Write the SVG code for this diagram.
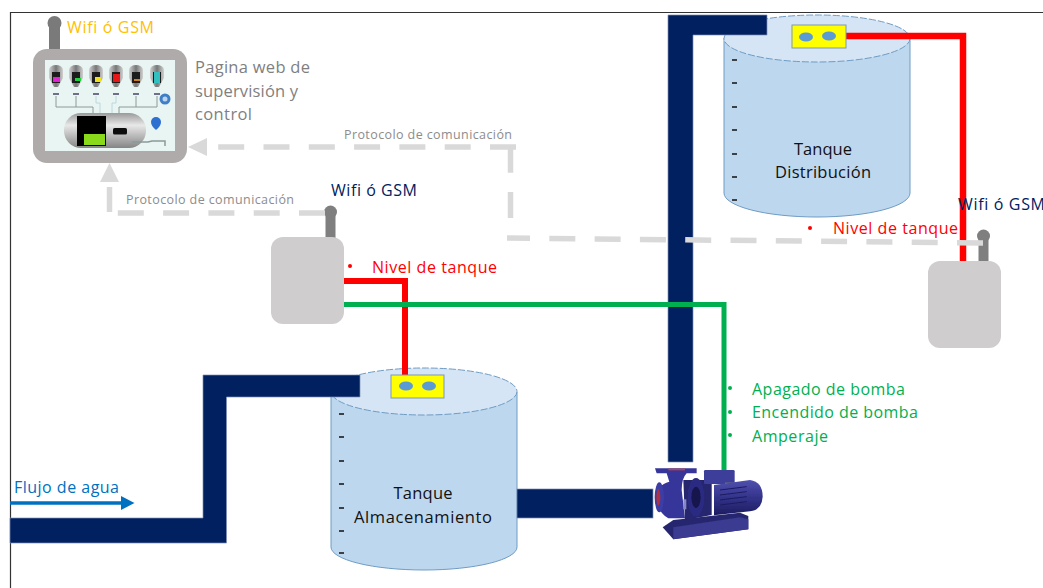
<svg xmlns="http://www.w3.org/2000/svg" width="1043" height="588" viewBox="0 0 1043 588">
<style>
text{font-family:"Open Sans","Liberation Sans",sans-serif;font-variant-ligatures:none}
.pipe{fill:#002060;stroke:#7f8fb5;stroke-width:.7}
.body{fill:#bdd7ee;stroke:#6f9cc4;stroke-width:1}
.lid{fill:#d6e5f5;stroke:#6f9cc4;stroke-width:1;stroke-dasharray:7 2}
.box{fill:#ffff00;stroke:#7f9aa8;stroke-width:1}
.dot{fill:#5b9bd5}
.tick{stroke:#111;stroke-width:1.6}
.tname{font-size:16.5px;font-weight:500;fill:#111;text-anchor:middle}
.dev{fill:#cfcdcd}
.ant{fill:none;stroke:#7f7f7f;stroke-width:10}
.ball{fill:#7f7f7f}
.dash{fill:none;stroke:#d9d9d9;stroke-width:5.5;stroke-dasharray:26 19.3}
.head{fill:#d9d9d9}
.proto{font-size:12.5px;fill:#8c8c8c}
.red{font-size:16px;fill:#ff0000}
.grn{font-size:16px;fill:#00b050}
.wifi{font-size:16px;fill:#002060}
.web{font-size:16.5px;fill:#7f7f7f}
.mpipe{fill:none;stroke:#8a9a9a;stroke-width:1}
.mpipe2{fill:none;stroke:#bcd6dc;stroke-width:1}
.soft{filter:url(#b)}
</style>
<defs>
<filter id="b" x="-5%" y="-5%" width="110%" height="110%"><feGaussianBlur stdDeviation="0.5"/></filter>
<linearGradient id="steel" x1="0" y1="0" x2="0" y2="1"><stop offset="0" stop-color="#9a9a9a"/><stop offset=".35" stop-color="#e8e8e8"/><stop offset="1" stop-color="#858585"/></linearGradient>
<linearGradient id="mini" x1="0" y1="0" x2="1" y2="0"><stop offset="0" stop-color="#d0d0d0"/><stop offset=".5" stop-color="#777"/><stop offset="1" stop-color="#d0d0d0"/></linearGradient>
<linearGradient id="motor" x1="0" y1="0" x2="0" y2="1"><stop offset="0" stop-color="#5050b0"/><stop offset=".5" stop-color="#33338a"/><stop offset="1" stop-color="#1c1c60"/></linearGradient>
<g id="mt"><path d="M-7 5a7 5 0 0 1 14 0V13L2 22H-2L-7 13Z" fill="url(#mini)"/><rect x="-4" y="7" width="8" height="11" fill="#1a1a1a"/></g>
</defs>
<rect width="1043" height="588" fill="#fff"/>
<path d="M10.500 588V12.500H1043" fill="none" stroke="#333" stroke-width="1.200"/>

<g id="tanque-distribucion">
<path class="body" d="M724 38V193A93 24 0 0 0 910 193V38Z"/>
<ellipse class="lid" cx="817" cy="38.500" rx="93" ry="23.500"/>
<path class="tick" d="M732 60h5M732 83h5M732 107h5M732 130h5M732 154h5M732 177h5M732 200h5"/>
<text class="tname" x="823" y="155" textLength="58">Tanque</text>
<text class="tname" x="823" y="178" textLength="96">Distribución</text>
</g>

<g id="tanque-almacenamiento">
<path class="body" d="M331 392V547A93 23 0 0 0 517 547V392Z"/>
<ellipse class="lid" cx="424" cy="391.500" rx="93" ry="23.500"/>
<path class="tick" d="M339 414h5M339 437h5M339 461h5M339 484h5M339 508h5M339 531h5M339 553h5"/>
<text class="tname" x="423" y="499" textLength="59">Tanque</text>
<text class="tname" x="423" y="523" textLength="138">Almacenamiento</text>
</g>

<g id="dispositivo-1">
<path class="ant" d="M330.500 238V213"/><circle class="ball" cx="330.500" cy="212" r="6.500"/>
<rect class="dev" x="271" y="237" width="73" height="87" rx="12"/>
</g>
<g id="dispositivo-2">
<path class="ant" d="M983.500 261V236"/><circle class="ball" cx="983.500" cy="236" r="6.500"/>
<rect class="dev" x="928" y="261" width="73" height="87" rx="12"/>
</g>

<g id="connectors">
<path class="pipe" d="M10 518H203V375H360V397H226.500V543H10Z"/>
<rect class="pipe" x="517" y="489" width="136" height="29"/>
<path class="pipe" d="M668 462V15H767V35H693V462Z"/>
<path d="M846 36H963V261" fill="none" stroke="#ff0000" stroke-width="6.500"/>
<path d="M344 281H405V376" fill="none" stroke="#ff0000" stroke-width="6"/>
<path d="M344 304.500H724V472" fill="none" stroke="#00b050" stroke-width="5"/>
<path class="dash" d="M983 243L507 238"/>
<path class="dash" d="M510.500 218V147"/>
<path class="dash" d="M516 147H218"/>
<path class="head" d="M188 147L207 138V156Z"/>
<path class="dash" d="M325 213H116"/>
<path d="M109.500 187V212" fill="none" stroke="#d9d9d9" stroke-width="5.500"/>
<path class="head" d="M109.500 163L119 182H100Z"/>
<path d="M10 503H122" fill="none" stroke="#0070c0" stroke-width="3.500"/>
<path d="M134.500 503L121 496V510Z" fill="#0070c0"/>
</g>

<g id="sensor-distribucion"><rect class="box" x="792" y="25" width="54" height="23"/><ellipse class="dot" cx="806" cy="37" rx="7" ry="4.500"/><ellipse class="dot" cx="829" cy="36" rx="7" ry="4.500"/></g>
<g id="sensor-almacenamiento"><rect class="box" x="391" y="375" width="53" height="23"/><ellipse class="dot" cx="406" cy="386" rx="7" ry="4.500"/><ellipse class="dot" cx="429" cy="386" rx="7" ry="4.500"/></g>

<g id="supervision">
<path d="M54.500 49V24" fill="none" stroke="#7a7a7a" stroke-width="11"/><circle cx="54.500" cy="23" r="7" fill="#7a7a7a"/>
<rect x="33" y="49" width="154" height="114" rx="14" fill="#afabab"/>
<rect x="45" y="60" width="130" height="91" fill="#e9f5f2"/>
<g class="soft">
<path class="mpipe" d="M56 96V107H93V113M76 96V107M136 96V107H119V113M157 96V107H136"/>
<path class="mpipe2" d="M96 96V103H100V113M116 96V103H112V113"/>
<use href="#mt" x="56" y="65"/><use href="#mt" x="76" y="65"/><use href="#mt" x="96" y="65"/><use href="#mt" x="116" y="65"/><use href="#mt" x="136" y="65"/><use href="#mt" x="157" y="65"/>
<rect x="53" y="77" width="7" height="5" fill="#e020d0"/>
<rect x="75" y="78" width="6" height="3" fill="#20d040"/>
<rect x="95" y="77" width="6" height="5" fill="#f0e020"/>
<rect x="113" y="74" width="7" height="8" fill="#e81818"/>
<rect x="134" y="79" width="6" height="2" fill="#d08020"/>
<rect x="154" y="72" width="6" height="11" fill="#30c0c0"/>
<path d="M53 94h6M73 94h6M93 94h6M113 94h6M133 94h6M154 94h6" stroke="#446" stroke-width="1.500"/>
<circle cx="165" cy="99" r="5.500" fill="#3f7fc8"/><circle cx="165" cy="99" r="2.500" fill="#bcd4ee"/>
<rect x="64" y="113" width="82" height="35" rx="17" fill="url(#steel)"/>
<rect x="77" y="116" width="29" height="30" fill="#000"/>
<rect x="84" y="134" width="21" height="11" fill="#8ada1a"/>
<rect x="113" y="128" width="14" height="6.500" rx="1.500" fill="#111"/>
<path d="M151 122a5 5 0 0 1 10 0q0 4 -5 8q-5 -4 -5 -8Z" fill="#2f6fd0"/>
<path d="M132 142H148L152 141H165V146" fill="none" stroke="#8a9a9a" stroke-width="1.500"/>
</g>
</g>

<g id="bomba" class="soft" transform="translate(640 440) scale(.3333)">
<path d="M68 262L100 298L325 268V228L300 218L100 240Z" fill="#27276f"/>
<path d="M100 262L300 232L325 238V268L100 298Z" fill="#3a3a92"/>
<path d="M45 85H170V100H140Q125 115 125 150L135 235H85Q50 215 50 170Q50 135 88 125L80 100H50Z" fill="#35359a"/>
<ellipse cx="58" cy="172" rx="14" ry="45" fill="#3c3ca6"/>
<ellipse cx="55" cy="172" rx="6" ry="25" fill="#b03040"/>
<rect x="85" y="86" width="50" height="5" fill="#c04040"/>
<path d="M130 120L215 120V225L135 240Z" fill="#25256e"/>
<ellipse cx="168" cy="172" rx="25" ry="58" fill="#2c2c82"/>
<ellipse cx="168" cy="172" rx="14" ry="32" fill="#14144e"/>
<rect x="192" y="90" width="92" height="42" rx="4" fill="#3c3c9a"/>
<rect x="255" y="128" width="30" height="12" fill="#8a8a6a"/>
<path d="M222 135L330 120Q368 125 368 170Q366 210 330 214L222 226Z" fill="url(#motor)"/>
<path d="M240 150L320 140M240 165L320 155M240 180L320 170M240 195L320 185" stroke="#1c1c60" stroke-width="3"/>
<rect x="130" y="178" width="9" height="30" fill="#8888c8"/>
</g>

<g id="textos">
<text x="67" y="33" font-size="16" fill="#ffc000" textLength="87">Wifi ó GSM</text>
<text class="web" x="195" y="73" textLength="115">Pagina web de</text>
<text class="web" x="195" y="97" textLength="103">supervisión y</text>
<text class="web" x="195" y="120" textLength="57">control</text>
<text class="proto" x="344" y="139" textLength="168">Protocolo de comunicación</text>
<text class="proto" x="126" y="204" textLength="168">Protocolo de comunicación</text>
<text class="wifi" x="331" y="196" textLength="86">Wifi ó GSM</text>
<text class="wifi" x="958" y="210" textLength="87">Wifi ó GSM</text>
<circle cx="350" cy="266" r="2" fill="#ff0000"/>
<text class="red" x="372" y="273" textLength="125">Nivel de tanque</text>
<circle cx="810" cy="228" r="2" fill="#ff0000"/>
<text class="red" x="833" y="234" textLength="125">Nivel de tanque</text>
<circle cx="730" cy="388" r="2" fill="#00b050"/>
<text class="grn" x="752" y="394.500" textLength="153">Apagado de bomba</text>
<circle cx="730" cy="412" r="2" fill="#00b050"/>
<text class="grn" x="752" y="418" textLength="166">Encendido de bomba</text>
<circle cx="730" cy="435" r="2" fill="#00b050"/>
<text class="grn" x="752" y="442" textLength="76">Amperaje</text>
<text x="14" y="493" font-size="16" fill="#0070c0" textLength="105">Flujo de agua</text>
</g>
</svg>
